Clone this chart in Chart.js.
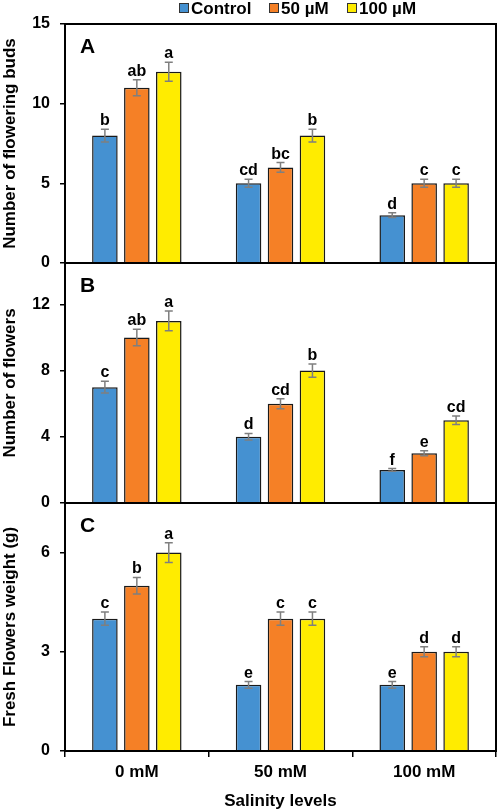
<!DOCTYPE html>
<html>
<head>
<meta charset="utf-8">
<script src="https://cdn.jsdelivr.net/npm/chart.js@4.4.1/dist/chart.umd.min.js"></script>
<style>
  body { margin: 0; background: #fff; }
  #wrap { position: relative; width: 497px; height: 812px; font-family: "Liberation Sans", Arial, sans-serif; }
  #wrap canvas { position: absolute; left: 0; top: 0; }
  .leg { position: absolute; top: 0; font-weight: bold; font-size: 17px; line-height: 17px; color: #000; white-space: nowrap; }
  .leg i { display: inline-block; width: 8px; height: 8px; border: 1px solid #333; margin-right: 2px; vertical-align: 1px; }
</style>
</head>
<body>
<div id="wrap">
  <canvas id="chartA" width="497" height="812"></canvas>
  <canvas id="chartB" width="497" height="812"></canvas>
  <canvas id="chartC" width="497" height="812"></canvas>
  <div class="leg" style="left:179px"><i style="background:#4591D1"></i>Control</div>
  <div class="leg" style="left:269px"><i style="background:#F58026"></i>50 µM</div>
  <div class="leg" style="left:347px"><i style="background:#FFEC00"></i>100 µM</div>
</div>
<script>
const categories = ['0 mM', '50 mM', '100 mM'];
const seriesNames = ['Control', '50 µM', '100 µM'];
const seriesColors = ['#4591D1', '#F58026', '#FFEC00'];

// A - number of flowering buds
const budsControl = [8, 5, 3];
const budsMid = [11, 6, 5];
const budsHigh = [12, 8, 5];
const budsErrControl = [0.4, 0.25, 0.15];
const budsErrMid = [0.5, 0.3, 0.25];
const budsErrHigh = [0.6, 0.4, 0.25];
const budsLetters = [['b', 'cd', 'd'], ['ab', 'bc', 'c'], ['a', 'b', 'c']];

// B - number of flowers
const flowersControl = [7, 4, 2];
const flowersMid = [10, 6, 3];
const flowersHigh = [11, 8, 5];
const flowersErrControl = [0.35, 0.2, 0.08];
const flowersErrMid = [0.5, 0.3, 0.15];
const flowersErrHigh = [0.6, 0.4, 0.25];
const flowersLetters = [['c', 'd', 'f'], ['ab', 'cd', 'e'], ['a', 'b', 'cd']];

// C - fresh flowers weight
const weightControl = [4, 2, 2];
const weightMid = [5, 4, 3];
const weightHigh = [6, 4, 3];
const weightErrControl = [0.2, 0.1, 0.1];
const weightErrMid = [0.25, 0.2, 0.15];
const weightErrHigh = [0.3, 0.2, 0.15];
const weightLetters = [['c', 'e', 'e'], ['b', 'c', 'd'], ['a', 'c', 'd']];

const FONT = '"Liberation Sans", Arial, sans-serif';

const panelPlugin = {
  id: 'panel',
  afterDatasetsDraw(chart) {
    const ctx = chart.ctx;
    const yScale = chart.scales.y;
    const cfg = chart.options.plugins.panel;
    ctx.save();
    chart.data.datasets.forEach((ds, i) => {
      const meta = chart.getDatasetMeta(i);
      meta.data.forEach((bar, j) => {
        const v = ds.data[j];
        const e = cfg.errors[i][j];
        const yTop = yScale.getPixelForValue(v + e);
        const yBot = yScale.getPixelForValue(v - e);
        ctx.strokeStyle = '#7f7f7f';
        ctx.lineWidth = 1.5;
        ctx.beginPath();
        ctx.moveTo(bar.x, yTop); ctx.lineTo(bar.x, yBot);
        ctx.moveTo(bar.x - 4, yTop); ctx.lineTo(bar.x + 4, yTop);
        ctx.moveTo(bar.x - 4, yBot); ctx.lineTo(bar.x + 4, yBot);
        ctx.stroke();
        ctx.fillStyle = '#000';
        ctx.font = 'bold 16px ' + FONT;
        ctx.textAlign = 'center';
        ctx.textBaseline = 'alphabetic';
        ctx.fillText(cfg.letters[i][j], bar.x, yTop - 4);
      });
    });
    const a = chart.chartArea;
    ctx.strokeStyle = '#000';
    ctx.lineWidth = 2;
    ctx.strokeRect(a.left, a.top, a.right - a.left, a.bottom - a.top);
    ctx.font = 'bold 21px ' + FONT;
    ctx.textAlign = 'left';
    ctx.fillStyle = '#000';
    ctx.fillText(cfg.label, a.left + 15, a.top + 29);
    ctx.restore();
  }
};

function makeChart(id, values, errors, letters, label, yTitle, maxY, step, top, bottom, showX) {
  const datasets = values.map((d, i) => ({
    label: seriesNames[i],
    data: d,
    backgroundColor: seriesColors[i],
    borderColor: '#1a1a1a',
    borderWidth: 1.5,
    categoryPercentage: 0.667,
    barPercentage: 0.8
  }));
  const xScale = {
    display: showX,
    offset: true,
    grid: { display: true, drawOnChartArea: false, offset: true, tickLength: 6, color: '#000', lineWidth: 1.5 },
    border: { display: false },
    ticks: { color: '#000', padding: 5, font: { family: FONT, size: 17, weight: 'bold' } },
    title: { display: true, text: 'Salinity levels', color: '#000', padding: 0, font: { family: FONT, size: 17, weight: 'bold' } }
  };
  if (showX) {
    xScale.afterFit = function(scale) { scale.height = 61; };
  }
  return new Chart(document.getElementById(id), {
    type: 'bar',
    data: { labels: categories, datasets: datasets },
    plugins: [panelPlugin],
    options: {
      responsive: false,
      animation: false,
      layout: { padding: { top: top, bottom: bottom, left: 0, right: 1 } },
      plugins: {
        legend: { display: false },
        tooltip: { enabled: false },
        panel: { errors: errors, letters: letters, label: label }
      },
      scales: {
        x: xScale,
        y: {
          min: 0,
          max: maxY,
          grid: { drawOnChartArea: false, tickLength: 5, color: '#000', lineWidth: 1.5 },
          border: { display: false },
          ticks: { stepSize: step, includeBounds: false, color: '#000', padding: 10, font: { family: FONT, size: 16, weight: 'bold' } },
          title: { display: true, text: yTitle, color: '#000', padding: 0, font: { family: FONT, size: 17, weight: 'bold' } },
          afterFit: function(scale) { scale.width = 65; }
        }
      }
    }
  });
}

makeChart('chartA', [budsControl, budsMid, budsHigh], [budsErrControl, budsErrMid, budsErrHigh], budsLetters,
  'A', 'Number of flowering buds', 15, 5, 24, 549, false);
makeChart('chartB', [flowersControl, flowersMid, flowersHigh], [flowersErrControl, flowersErrMid, flowersErrHigh], flowersLetters,
  'B', 'Number of flowers', 14.5, 4, 263, 309, false);
makeChart('chartC', [weightControl, weightMid, weightHigh], [weightErrControl, weightErrMid, weightErrHigh], weightLetters,
  'C', 'Fresh Flowers weight (g)', 7.5, 3, 503, 0, true);
</script>
</body>
</html>
